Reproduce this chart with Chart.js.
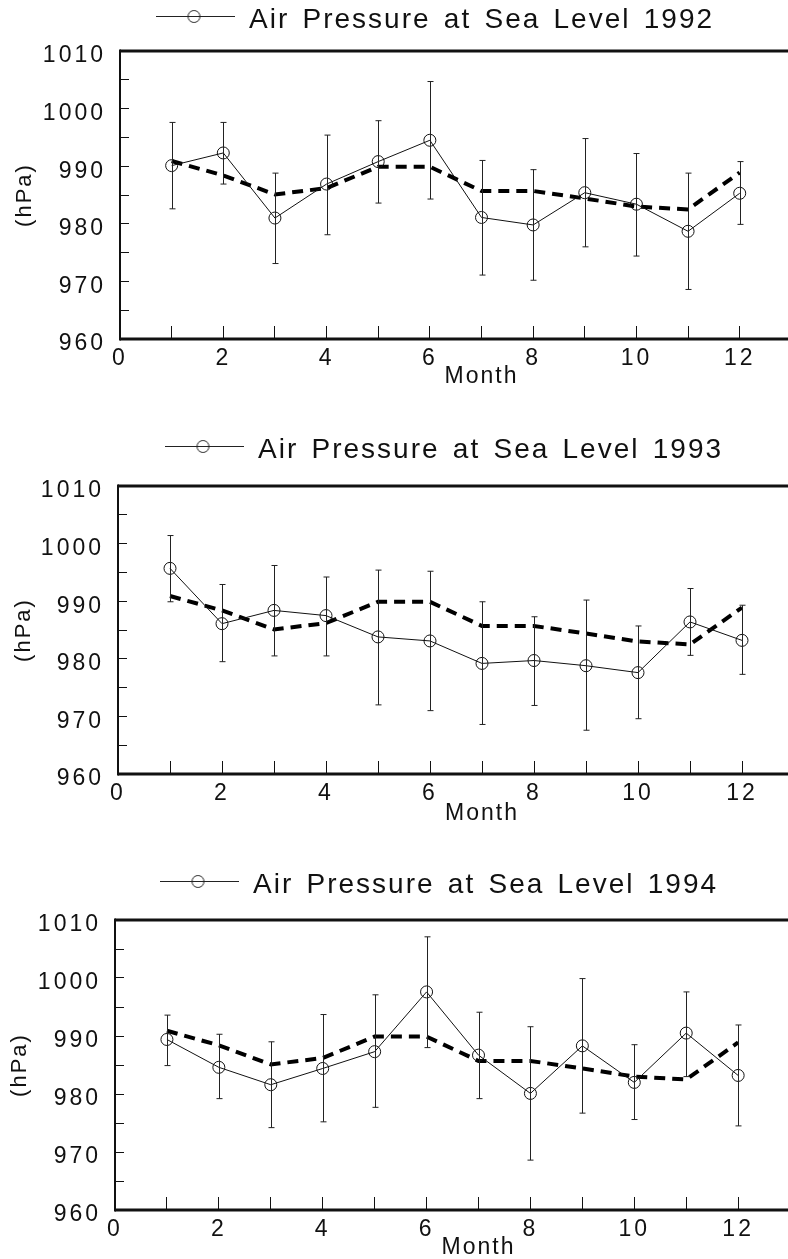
<!DOCTYPE html>
<html lang="en">
<head>
<meta charset="UTF-8" />
<title>Air Pressure at Sea Level</title>
<script src="https://cdn.jsdelivr.net/npm/chart.js@4.4.1/dist/chart.umd.min.js"></script>
<style>
    html, body { margin: 0; padding: 0; background: #fff; overflow: hidden; }
    body { width: 788px; height: 1259px; position: relative; }
    .panel { position: absolute; left: 0; width: 860px; }
</style>
</head>
<body>
<div class="panel" style="top:-8px;height:417px"><canvas id="c1992"></canvas></div>
<div class="panel" style="top:427px;height:417px"><canvas id="c1993"></canvas></div>
<div class="panel" style="top:861px;height:419px"><canvas id="c1994"></canvas></div>
<script>
const months = [1, 2, 3, 4, 5, 6, 7, 8, 9, 10, 11, 12];
const xTickLabels = [0, 2, 4, 6, 8, 10, 12];
const yTickLabels = [960, 970, 980, 990, 1000, 1010];

// long-term monthly mean (dashed line, same in every panel)
const meanPressure = [990.9, 988.4, 985.1, 986.2, 989.9, 989.9, 985.7, 985.7, 984.4, 983.0, 982.5, 988.9];

const p1992 = [990.1, 992.3, 981.0, 986.9, 990.8, 994.5, 981.1, 979.8, 985.4, 983.4, 978.7, 985.3];
const lo1992 = [982.6, 986.9, 973.1, 978.1, 983.6, 984.3, 971.1, 970.2, 976.0, 974.4, 968.6, 979.9];
const hi1992 = [997.6, 997.6, 988.8, 995.4, 997.9, 1004.7, 991.0, 989.4, 994.8, 992.2, 988.8, 990.8];

const p1993 = [995.7, 986.1, 988.4, 987.5, 983.8, 983.1, 979.2, 979.7, 978.8, 977.6, 986.4, 983.2];
const lo1993 = [989.9, 979.5, 980.5, 980.5, 972.0, 971.0, 968.6, 971.9, 967.6, 969.6, 980.6, 977.3];
const hi1993 = [1001.4, 992.9, 996.2, 994.2, 995.4, 995.2, 989.9, 987.3, 990.2, 985.7, 992.2, 989.3];

const p1994 = [989.4, 984.6, 981.6, 984.4, 987.3, 997.6, 986.7, 980.1, 988.3, 982.0, 990.5, 983.2];
const lo1994 = [984.9, 979.2, 974.2, 975.2, 977.7, 988.0, 979.2, 968.6, 976.7, 975.6, 983.0, 974.5];
const hi1994 = [993.6, 990.3, 989.0, 993.7, 997.1, 1007.1, 994.1, 991.6, 999.9, 988.5, 997.6, 991.9];

// the plot box runs past the right edge of the page (x axis goes to 14)
const panels = [
    { id: 'c1992', year: 1992, values: p1992, lo: lo1992, hi: hi1992, axisLeft: 120, padRight: 17, legendLeft: 151, legendGap: 31, monthGap: 38, hpaPad: 12 },
    { id: 'c1993', year: 1993, values: p1993, lo: lo1993, hi: hi1993, axisLeft: 118, padRight: 13, legendLeft: 160, legendGap: 36, monthGap: 40, hpaPad: 11 },
    { id: 'c1994', year: 1994, values: p1994, lo: lo1994, hi: hi1994, axisLeft: 115, padRight: 18, legendLeft: 155, legendGap: 35, monthGap: 38, hpaPad: 7 }
];

Chart.defaults.font.family = '"Liberation Sans", Arial, sans-serif';
Chart.defaults.color = '#111';

const legendFont = 28;
const labelShift = 5;

function legendIcon() {
    let c = document.createElement('canvas');
    c.width = 79;
    c.height = 22;
    let g = c.getContext('2d');
    g.strokeStyle = '#222';
    g.lineWidth = 1;
    g.beginPath();
    g.moveTo(0, 7.5);
    g.lineTo(79, 7.5);
    g.stroke();
    g.beginPath();
    g.arc(38.5, 7.5, 6, 0, Math.PI * 2);
    g.stroke();
    return c;
}
const icon = legendIcon();

const framePlugin = {
    id: 'frame',
    afterDraw(chart) {
        const { ctx, chartArea: a, width } = chart;
        ctx.save();
        ctx.strokeStyle = '#111';
        ctx.lineWidth = 3;
        ctx.beginPath();
        ctx.moveTo(a.left, a.top);
        ctx.lineTo(width, a.top);
        ctx.moveTo(a.left, a.bottom);
        ctx.lineTo(width, a.bottom);
        ctx.stroke();
        ctx.lineWidth = 2;
        ctx.beginPath();
        ctx.moveTo(a.left, a.top - 1.5);
        ctx.lineTo(a.left, a.bottom + 1.5);
        ctx.stroke();
        ctx.restore();
    }
};

const errorBarPlugin = {
    id: 'errorBars',
    afterDatasetsDraw(chart, args, opts) {
        const xs = chart.scales.x;
        const ys = chart.scales.y;
        const ctx = chart.ctx;
        ctx.save();
        ctx.strokeStyle = '#222';
        ctx.lineWidth = 1;
        opts.lo.forEach((lo, i) => {
            let px = Math.round(xs.getPixelForValue(months[i])) + 0.5;
            let top = ys.getPixelForValue(opts.hi[i]);
            let bot = ys.getPixelForValue(lo);
            ctx.beginPath();
            ctx.moveTo(px, top);
            ctx.lineTo(px, bot);
            ctx.moveTo(px - 3, top);
            ctx.lineTo(px + 3, top);
            ctx.moveTo(px - 3, bot);
            ctx.lineTo(px + 3, bot);
            ctx.stroke();
        });
        ctx.restore();
    }
};

// legend placement and the wide letter spacing of the old typeset figure.
// titles + legend are drawn before the datasets, tick labels (z: 1) after them
const textPlugin = {
    id: 'textLook',
    afterLayout(chart, args, opts) {
        chart.legend.left = opts.left;
        chart.legend.top = chart.chartArea.top - opts.gap - 4 - legendFont / 2;
    },
    beforeDraw(chart) {
        chart.ctx.letterSpacing = '2px';
        chart.ctx.wordSpacing = '3.5px';
    },
    afterDatasetsDraw(chart) {
        chart.ctx.letterSpacing = '3px';
        chart.ctx.wordSpacing = '0px';
        // tick numbers sit a little below their tick marks
        chart.ctx.translate(0, labelShift);
    },
    afterDraw(chart) {
        chart.ctx.translate(0, -labelShift);
    }
};

panels.forEach(p => {
    let ctx = document.getElementById(p.id).getContext('2d');
    new Chart(ctx, {
        type: 'line',
        data: {
            datasets: [
                {
                    label: 'Air Pressure at Sea Level ' + p.year,
                    data: months.map((m, i) => ({ x: m, y: p.values[i] })),
                    borderColor: '#111',
                    borderWidth: 1,
                    pointRadius: 6,
                    pointBorderWidth: 1,
                    pointBorderColor: '#111',
                    pointBackgroundColor: 'rgba(0,0,0,0)',
                    fill: false,
                    tension: 0
                },
                {
                    label: 'Mean',
                    data: months.map((m, i) => ({ x: m, y: meanPressure[i] })),
                    borderColor: '#000',
                    borderWidth: 4,
                    borderDash: [11, 7],
                    pointRadius: 0,
                    fill: false,
                    tension: 0
                }
            ]
        },
        options: {
            responsive: true,
            maintainAspectRatio: false,
            animation: false,
            events: [],
            layout: { padding: { top: 17, right: p.padRight, left: 0, bottom: 0 } },
            scales: {
                x: {
                    type: 'linear',
                    min: 0,
                    max: 14,
                    afterFit: s => { s.height = 70; },
                    border: { display: false },
                    grid: {
                        drawOnChartArea: false,
                        tickLength: -13,
                        color: c => (c.tick && c.tick.value >= 1 && c.tick.value <= 12) ? '#111' : 'rgba(0,0,0,0)'
                    },
                    ticks: {
                        z: 1,
                        stepSize: 1,
                        autoSkip: false,
                        maxRotation: 0,
                        padding: 14,
                        font: { size: 23 },
                        callback: v => xTickLabels.includes(v) ? String(v) : ''
                    },
                    title: {
                        display: true,
                        text: 'Month',
                        font: { size: 23 },
                        padding: { top: 0, bottom: 70 - p.monthGap - 13.8 }
                    }
                },
                y: {
                    min: 960,
                    max: 1010,
                    afterFit: s => { s.width = p.axisLeft; },
                    border: { display: false },
                    grid: { drawOnChartArea: false, tickLength: -9, color: '#111' },
                    ticks: {
                        z: 1,
                        stepSize: 5,
                        autoSkip: false,
                        padding: 23,
                        font: { size: 23 },
                        callback: v => yTickLabels.includes(v) ? String(v) : ''
                    },
                    title: {
                        display: true,
                        text: '(hPa)',
                        font: { size: 22 },
                        padding: { top: p.hpaPad, bottom: 0 }
                    }
                }
            },
            plugins: {
                legend: {
                    display: true,
                    position: 'top',
                    align: 'start',
                    labels: {
                        usePointStyle: true,
                        pointStyleWidth: 80,
                        padding: 4,
                        font: { size: legendFont },
                        color: '#111',
                        filter: item => item.datasetIndex === 0,
                        generateLabels: chart => Chart.defaults.plugins.legend.labels.generateLabels(chart)
                            .map(l => Object.assign(l, { pointStyle: icon }))
                    }
                },
                tooltip: { enabled: false },
                errorBars: { lo: p.lo, hi: p.hi },
                textLook: { left: p.legendLeft, gap: p.legendGap }
            }
        },
        plugins: [errorBarPlugin, textPlugin, framePlugin]
    });
});
</script>
</body>
</html>
